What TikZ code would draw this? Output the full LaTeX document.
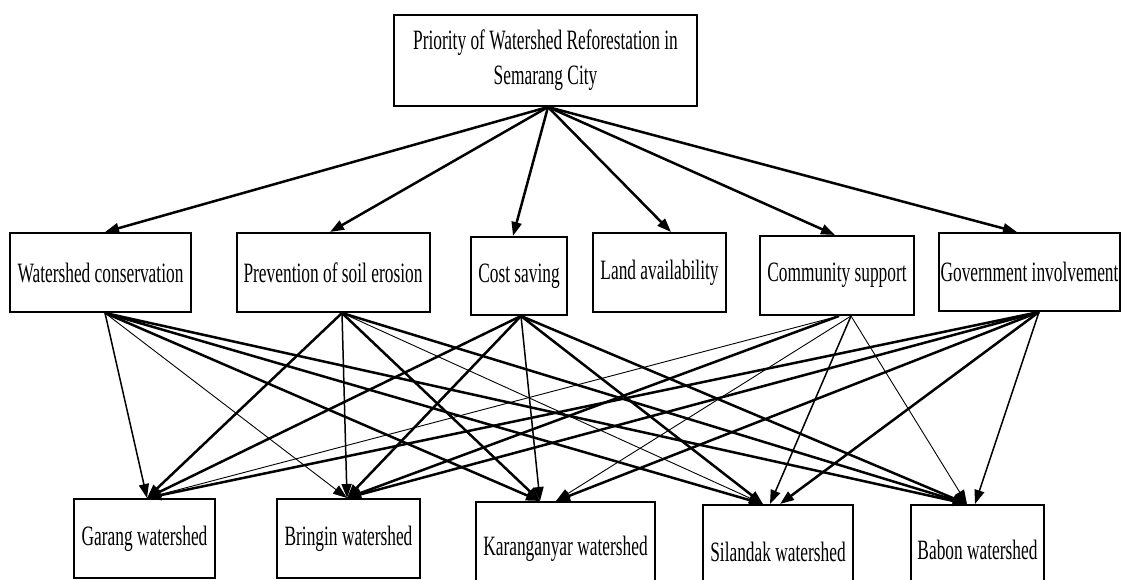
\documentclass[tikz,border=0pt]{standalone}
\usepackage{fontspec}
\newfontfamily\boxfont[FakeStretch=0.62]{Liberation Serif}
\usetikzlibrary{arrows.meta}

\tikzset{
  box/.style={draw,line width=2pt,inner sep=0pt,align=center,
    font=\boxfont\fontsize{28}{35}\selectfont},
  link/.style={-{Triangle[length=14pt,width=10pt]}},
  thinlink/.style={link,line width=0.9pt},
  midlink/.style={link,line width=1.5pt},
  thicklink/.style={link,line width=2.5pt}
}

\begin{document}
\begin{tikzpicture}[x=1pt,y=-1pt]
\clip (0,0) rectangle (1121,579);
% goal
\node[box,minimum width=303pt,minimum height=91pt] (goal) at (545.5,60.5)
  {Priority of Watershed Reforestation in\\Semarang City};

% criteria
\node[box,minimum width=181pt,minimum height=79pt] (wc) at (100.5,272.5) {Watershed conservation};
\node[box,minimum width=193pt,minimum height=79pt] (pe) at (333,272.5) {Prevention of soil erosion};
\node[box,minimum width=96pt,minimum height=78pt] (cs) at (519,276) {Cost saving};
\node[box,minimum width=133pt,minimum height=79pt] (la) at (659.5,272.5) {Land availability};
\node[box,minimum width=154pt,minimum height=79pt] (co) at (837,275.5) {Community support};
\node[box,minimum width=181pt,minimum height=78pt] (go) at (1029.5,272) {Government involvement};

% alternatives
\node[box,minimum width=141pt,minimum height=79pt] (garang) at (144.5,538.5) {Garang watershed};
\node[box,minimum width=143pt,minimum height=79pt] (bringin) at (348.5,538.5) {Bringin watershed};
\node[box,minimum width=179pt,minimum height=93pt] (karang) at (565.5,548.5) {Karanganyar watershed};
\node[box,minimum width=150pt,minimum height=93pt] (silandak) at (778,551.5) {Silandak watershed};
\node[box,minimum width=133pt,minimum height=89pt] (babon) at (977.5,549.5) {Babon watershed};

% goal to criteria
\coordinate (goal-o) at ([xshift=2.5pt]goal.south);
\foreach \n/\s in {wc/4.5,pe/-3,cs/-6,la/11.5,co/-2,go/-12.5}
  \draw[thicklink] (goal-o) -- ([xshift=\s pt]\n.north);

% end points of the lower links
\coordinate (wc-o) at ([xshift=4.5pt]wc.south);
\coordinate (pe-o) at ([xshift=9pt]pe.south);
\coordinate (cs-o) at ([xshift=2pt]cs.south);
\coordinate (co-o) at ([xshift=2pt]co.south);
\coordinate (co-p) at ([xshift=14pt]co.south);
\coordinate (go-o) at ([xshift=9.5pt]go.south);
\coordinate (ga-i) at ([xshift=2.5pt]garang.north);
\coordinate (br-i) at ([xshift=-1.5pt]bringin.north);
\coordinate (ka-i) at ([xshift=-25.5pt]karang.north);
\coordinate (ka-j) at ([xshift=-9.5pt]karang.north);
\coordinate (si-i) at ([xshift=-15pt]silandak.north);
\coordinate (si-j) at ([xshift=-8pt]silandak.north);
\coordinate (si-k) at ([xshift=2pt]silandak.north);
\coordinate (ba-i) at ([xshift=-10.5pt]babon.north);
\coordinate (ba-j) at ([xshift=-2.5pt]babon.north);

% criteria to alternatives
\foreach \a/\b/\w in {
  wc-o/ga-i/midlink, wc-o/br-i/thinlink, wc-o/ka-i/thicklink, wc-o/si-i/thicklink, wc-o/ba-i/thicklink,
  pe-o/ga-i/thicklink, pe-o/br-i/midlink, pe-o/ka-i/thicklink, pe-o/si-i/thinlink, pe-o/ba-i/thicklink,
  cs-o/ga-i/thicklink, cs-o/br-i/thicklink, cs-o/ka-i/midlink, cs-o/si-i/thicklink, cs-o/ba-i/thicklink,
  co-o/ga-i/thinlink, co-o/br-i/thicklink, co-p/ka-j/thinlink, co-p/si-j/midlink, co-p/ba-i/thinlink,
  go-o/ga-i/thicklink, go-o/br-i/thicklink, go-o/ka-j/thicklink, go-o/si-k/thicklink, go-o/ba-j/midlink}
  \draw[\w] (\a) -- (\b);
\end{tikzpicture}
\end{document}
